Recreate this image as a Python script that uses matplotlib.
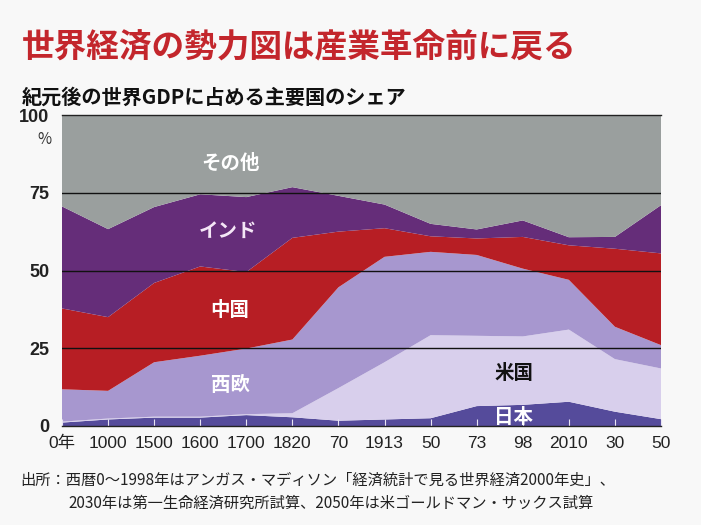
import numpy as np
import matplotlib
matplotlib.use('Agg')
import matplotlib.pyplot as plt
from matplotlib import font_manager

plt.rcParams['font.family'] = ['Noto Sans CJK JP', 'DejaVu Sans']

years = ['0年', '1000', '1500', '1600', '1700', '1820', '70', '1913', '50', '73', '98', '2010', '30', '50']
# シェア (%) 下から順に
japan = [1.1, 2.1, 2.7, 2.7, 3.5, 2.8, 1.7, 2.1, 2.5, 6.4, 6.8, 7.8, 4.6, 2.2]
usa = [0.3, 0.3, 0.3, 0.3, 0.3, 1.3, 10.5, 18.4, 26.7, 22.6, 22.0, 23.2, 16.9, 16.3]
weurope = [10.4, 8.9, 17.5, 19.6, 21.1, 23.7, 32.4, 33.9, 26.8, 26.0, 21.8, 16.0, 10.4, 7.5]
china = [26.0, 23.7, 25.5, 28.7, 24.6, 32.7, 17.9, 9.2, 5.0, 5.3, 10.2, 11.1, 25.1, 29.5]
india = [32.8, 28.3, 24.4, 23.2, 24.1, 16.3, 11.5, 7.6, 4.0, 2.9, 5.3, 2.6, 3.8, 15.5]
others = list(100 - np.sum([japan, usa, weurope, china, india], axis=0))

colors = ['#554b9b', '#d8cfec', '#a797cf', '#b71e24', '#652d79', '#9a9f9e']

# 細い数字用フォント（なければ Liberation Sans を小さめに）
numfont, numsize = 'Liberation Sans', 12.5
for fam, sz in [('Liberation Sans Narrow', 15), ('DejaVu Sans Condensed', 13)]:
	try:
		font_manager.findfont(font_manager.FontProperties(family=fam), fallback_to_default=False)
		numfont, numsize = fam, sz
		break
	except Exception:
		pass

fig = plt.figure(figsize=(7.01, 5.25), dpi=100)
fig.patch.set_facecolor('#f8f8f8')
ax = fig.add_axes([62/701., 1 - 426/525., (661 - 62)/701., (426 - 115)/525.])

x = np.arange(len(years))
ax.stackplot(x, japan, usa, weurope, china, india, others, colors=colors, linewidth=0)

for yv in [25, 50, 75]:
	ax.axhline(yv, color='#111111', lw=1.0, zorder=3)

ax.set_xlim(0, len(years) - 1)
ax.set_ylim(0, 100)
for s in ['left', 'right']:
	ax.spines[s].set_visible(False)
for s in ['top', 'bottom']:
	ax.spines[s].set_color('#222222')
	ax.spines[s].set_linewidth(1.0)

ax.set_xticks(x)
ax.set_xticklabels(years, family=[numfont, 'Noto Sans CJK JP'], fontsize=numsize, color='#222222')
ax.tick_params(axis='x', direction='in', color='#e8e4f4', length=5, width=0.8, pad=7)
ax.set_yticks([0, 25, 50, 75, 100])
ax.set_yticklabels(['0', '25', '50', '75', '100'], family=[numfont, 'DejaVu Sans'],
	fontsize=numsize + 0.5, fontweight='bold', color='#222222')
ax.tick_params(axis='y', length=0, pad=9)
fig.text(44/701., 1 - 139/525., '%', fontsize=11, color='#333333', ha='center', va='center')

# 帯のラベル
lab = {'fontsize': 14, 'fontweight': 'bold', 'ha': 'center', 'va': 'center', 'zorder': 5}
ax.text(3.65, 84.5, 'その他', color='white', **lab)
ax.text(3.6, 62.5, 'インド', color='#f4e6f6', **lab)
ax.text(3.65, 37.0, '中国', color='white', **lab)
ax.text(3.65, 13.0, '西欧', color='white', **lab)
ax.text(9.8, 17.0, '米国', color='#111111', **lab)
ax.text(9.8, 2.8, '日本', color='white', **lab)

fig.text(22/701., 1 - 48/525., '世界経済の勢力図は産業革命前に戻る', fontsize=23.5, fontweight='bold',
	color='#c3262c', ha='left', va='center')
fig.text(22/701., 1 - 97/525., '紀元後の世界GDPに占める主要国のシェア', fontsize=14.5, fontweight='bold',
	color='#111111', ha='left', va='center')
fig.text(20/701., 1 - 480/525., '出所：西暦0～1998年はアンガス・マディソン「経済統計で見る世界経済2000年史」、',
	fontsize=11, color='#222222', ha='left', va='center')
fig.text(68/701., 1 - 503/525., '2030年は第一生命経済研究所試算、2050年は米ゴールドマン・サックス試算',
	fontsize=11, color='#222222', ha='left', va='center')

plt.savefig('out.png', dpi=100, facecolor=fig.get_facecolor())
